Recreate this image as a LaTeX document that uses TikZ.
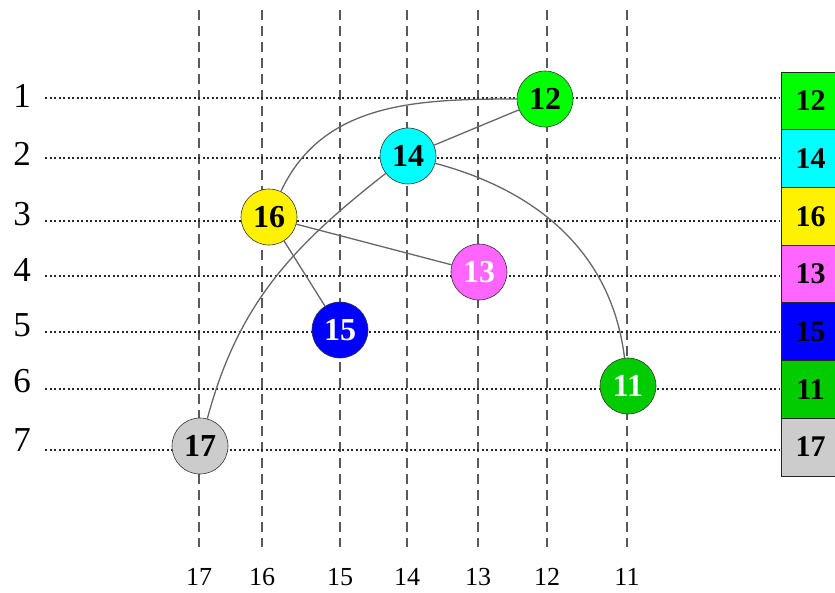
\documentclass[tikz,border=0pt]{standalone}
\usepackage{fontspec}
\setmainfont{Liberation Serif}
\definecolor{vivgreen}{RGB}{0,255,0}
\definecolor{midgreen}{RGB}{0,204,0}
\definecolor{pink}{RGB}{255,102,255}
\definecolor{lgray}{RGB}{204,204,204}
\definecolor{aqua}{RGB}{0,255,255}
\begin{document}
\begin{tikzpicture}[
  x=1pt, y=1pt,
  vertex/.style={circle, draw=black!80, line width=0.6pt, minimum size=56pt,
                 inner sep=0pt, font=\bfseries\fontsize{32}{32}\selectfont},
  legbox/.style={rectangle, draw=black!85, line width=0.8pt, minimum width=59pt,
                 minimum height=57.7pt, inner sep=0pt,
                 font=\bfseries\fontsize{30}{30}\selectfont},
  colline/.style={black!65, line width=1.3pt, dash pattern=on 10pt off 6pt},
  rowline/.style={black!85, line width=1.1pt, dash pattern=on 2pt off 2.5pt},
  edge/.style={black!60, line width=1.3pt},
]
\useasboundingbox (0,0) rectangle (835,-592);
% Columnas
\foreach \c/\x in {17/199,16/262,15/340,14/407,13/478,12/547,11/627}{
  \draw[colline] (\x,-10) -- (\x,-547);
  \node[font=\fontsize{26}{26}\selectfont] (col\c) at (\x,-577) {\c};
}
% Filas
\foreach \r/\y/\ly in {1/98/96,2/158/154,3/221/214,4/276/270,5/332/325,6/389/381,7/450/440}{
  \draw[rowline] (45,-\y) -- (780,-\y);
  \node[font=\fontsize{35}{35}\selectfont] (row\r) at (22,-\ly) {\r};
}
% Vertices
\node[vertex, fill=vivgreen]           (n12) at (545,-99)  {12};
\node[vertex, fill=aqua]               (n14) at (408,-156) {14};
\node[vertex, fill=yellow]             (n16) at (269,-217) {16};
\node[vertex, fill=pink, text=white]   (n13) at (479,-272) {13};
\node[vertex, fill=blue, text=white]   (n15) at (340,-330) {15};
\node[vertex, fill=midgreen, text=white] (n11) at (628,-386) {11};
\node[vertex, fill=lgray]              (n17) at (200,-446) {17};
% Aristas
\draw[edge] (n16) to[out=65,in=180] (n12);
\draw[edge] (n14) -- (n12);
\draw[edge] (n14) to[out=-15,in=97] (n11);
\draw[edge] (n14) to[out=218,in=75] (n17);
\draw[edge] (n16) -- (n13);
\draw[edge] (n16) -- (n15);
% Leyenda
\foreach \v/\col [count=\i] in {12/vivgreen,14/aqua,16/yellow,13/pink,15/blue,11/midgreen,17/lgray}{
  \node[legbox, fill=\col] (leg\v) at (810.5,-72-57.7*\i+28.85) {\v};
}
\end{tikzpicture}
\end{document}
